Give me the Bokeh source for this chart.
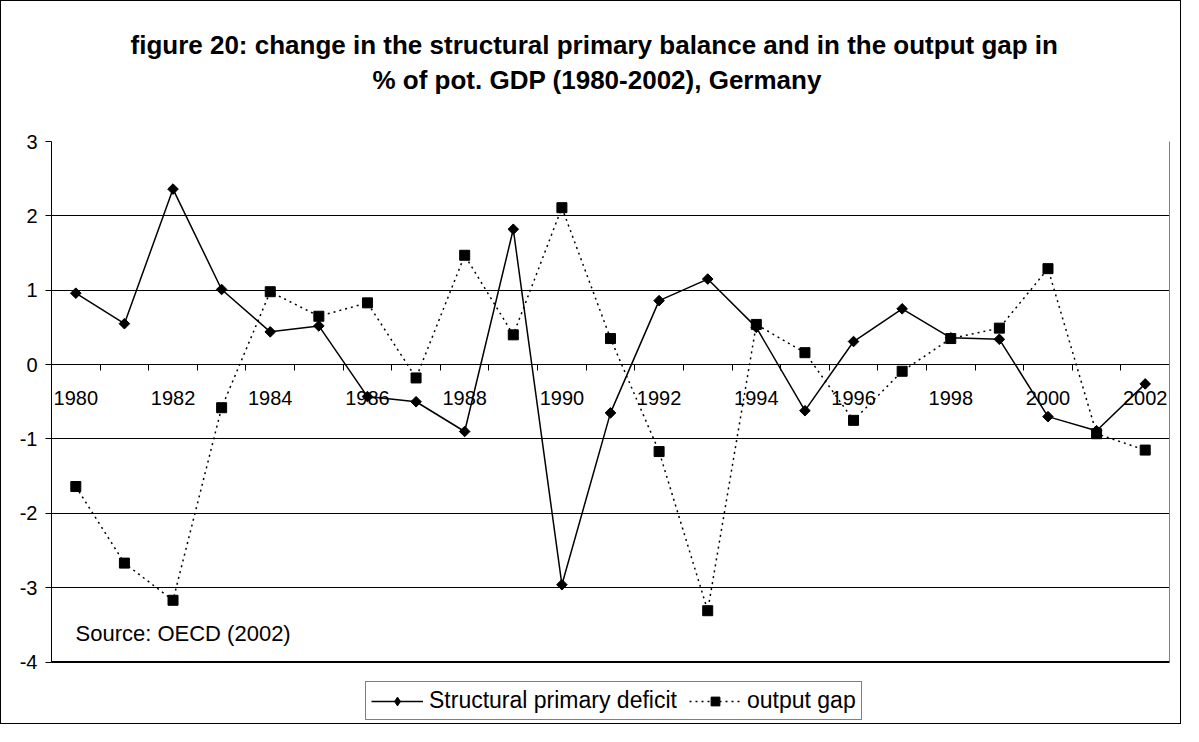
from bokeh.plotting import figure
from bokeh.models import (Range1d, LinearAxis, FixedTicker, Legend, LegendItem,
                          Label, Span, Title, CustomJSTickFormatter)
from bokeh.core.properties import value
from bokeh.embed import file_html
from bokeh.resources import INLINE

# ---------------- data ----------------
years = list(range(1980, 2003))
structural_primary_deficit = [0.96, 0.55, 2.36, 1.01, 0.44, 0.52, -0.43, -0.50, -0.90,
                              1.82, -2.96, -0.65, 0.86, 1.15, 0.50, -0.62, 0.31, 0.75,
                              0.36, 0.34, -0.70, -0.89, -0.26]
output_gap = [-1.64, -2.67, -3.17, -0.58, 0.98, 0.65, 0.83, -0.18, 1.47, 0.40, 2.11,
              0.35, -1.17, -3.31, 0.54, 0.16, -0.75, -0.09, 0.35, 0.49, 1.29, -0.93,
              -1.15]
y_ticks = [-4, -3, -2, -1, 0, 1, 2, 3]
x_label_years = years[::2]
x_label_text = [str(y) for y in x_label_years]
title_line1 = "figure 20: change in the structural primary balance and in the output gap in"
title_line2 = "% of pot. GDP (1980-2002), Germany"
source_text = "Source: OECD (2002)"
series_names = ["Structural primary deficit", "output gap"]

FONT = "Liberation Sans"

p = figure(width=1181, height=724, output_backend="svg", toolbar_location=None,
           title=None,
           x_range=Range1d(years[0] - 0.5, years[-1] + 0.5),
           y_range=Range1d(-4.8, y_ticks[-1]),
           x_axis_type=None,
           min_border_left=50, min_border_right=13, min_border_top=140,
           min_border_bottom=4)
p.styles = {"border": "1px solid black"}
p.background_fill_color = "white"
p.border_fill_color = "white"
p.outline_line_color = None

# y axis (left) limited to the plot area
p.yaxis.ticker = FixedTicker(ticks=y_ticks)
p.yaxis.formatter = CustomJSTickFormatter(code="return tick.toString()")
p.yaxis.bounds = (y_ticks[0], y_ticks[-1])
p.yaxis.major_tick_out = 6
p.yaxis.major_tick_in = 0
p.yaxis.minor_tick_line_color = None
p.yaxis.axis_line_color = "black"
p.yaxis.major_tick_line_color = "black"
p.yaxis.major_label_text_font = FONT
p.yaxis.major_label_text_font_size = "20px"
p.yaxis.major_label_text_color = "black"
p.yaxis.major_label_standoff = 8

# right edge of plot area (grey)
right_edge = LinearAxis(ticker=FixedTicker(ticks=[]), bounds=(y_ticks[0], y_ticks[-1]),
                        axis_line_color="#808080", major_tick_line_color=None,
                        minor_tick_line_color=None, major_label_standoff=0,
                        major_tick_out=0, major_tick_in=0)
p.add_layout(right_edge, "right")

p.ygrid.ticker = FixedTicker(ticks=y_ticks)
p.ygrid.grid_line_color = "black"
p.ygrid.grid_line_width = 1
p.xgrid.visible = False

# category boundary ticks hanging down from the zero line
bounds = [y - 0.5 for y in years] + [years[-1] + 0.5]
ax_ticks = LinearAxis(ticker=FixedTicker(ticks=bounds), fixed_location=0,
                      formatter=CustomJSTickFormatter(code="return ''"),
                      major_tick_out=0, major_tick_in=6,
                      major_tick_line_color="black", axis_line_color="black",
                      minor_tick_line_color=None, major_label_standoff=0)
p.add_layout(ax_ticks, "above")

# spacer between plot area and title, then the two title lines
p.add_layout(Title(text=" ", text_font=FONT, text_font_size="10px", standoff=32),
             "above")
p.add_layout(Title(text=title_line2, align="left", offset=321, text_font=FONT,
                   text_font_style="bold", text_font_size="26px",
                   text_color="black", standoff=3), "above")
p.add_layout(Title(text=title_line1, align="left", offset=79, text_font=FONT,
                   text_font_style="bold", text_font_size="26px",
                   text_color="black", standoff=3), "above")

# bottom edge of plot area
p.add_layout(Span(location=y_ticks[0], dimension="width", line_color="black",
                  line_width=2))

# year labels below the zero line
p.text(x=x_label_years, y=[0] * len(x_label_years), text=x_label_text,
       text_align="center", text_baseline="middle", y_offset=33,
       text_font=value(FONT), text_font_size="20px", text_color="black")

# series
l1 = p.line(years, structural_primary_deficit, line_color="black", line_width=1.5)
# diamond (legend key) drawn underneath the rotated squares
d_key = p.scatter(years, structural_primary_deficit, marker="diamond", size=9,
                  fill_color="black", line_color="black")
s1 = p.scatter(years, structural_primary_deficit, marker="square", angle=0.785398,
               size=7.5, fill_color="black", line_color="black")
l2 = p.line(years, output_gap, line_color="black", line_width=1.5, line_dash="2 4")
s2 = p.scatter(years, output_gap, marker="square", size=10, fill_color="black",
               line_color="black")

legend = Legend(items=[LegendItem(label=series_names[0], renderers=[l1, d_key]),
                       LegendItem(label=series_names[1], renderers=[l2, s2])],
                orientation="horizontal", location=(314, 1),
                border_line_color="black", border_line_width=1,
                background_fill_color="white", background_fill_alpha=1,
                label_text_font=FONT, label_text_font_size="23px",
                label_text_color="black", glyph_width=52, glyph_height=22,
                label_standoff=6, spacing=12, padding=5, margin=0)
p.add_layout(legend)

p.add_layout(Label(x=24, y=88, x_units="screen", y_units="screen", text=source_text,
                   text_font=FONT, text_font_size="22px", text_color="black",
                   text_baseline="middle"))

open("out.html", "w").write(file_html(p, INLINE))
